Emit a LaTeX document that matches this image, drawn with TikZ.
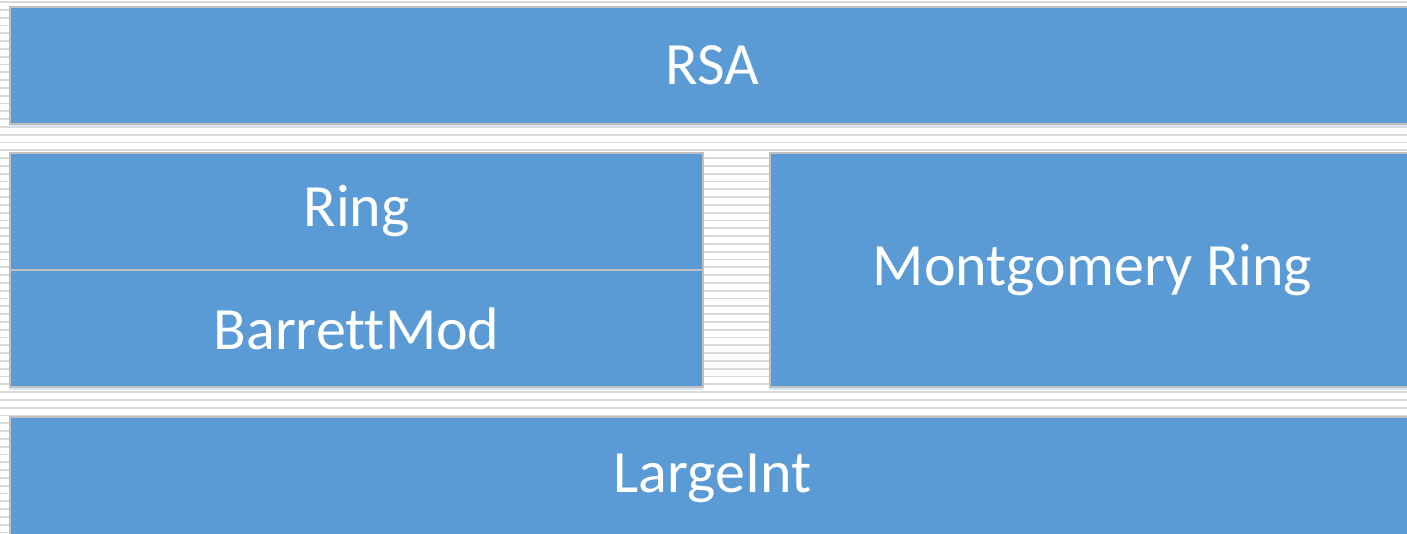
\documentclass[tikz,border=0pt]{standalone}
\usepackage{fontspec}
\setmainfont{Carlito}[Ligatures=NoCommon]
\usepackage{tikz}
\usetikzlibrary{positioning,shadows}

\definecolor{boxblue}{HTML}{5B9BD5}
\definecolor{boxedge}{HTML}{BFBFBF}
\definecolor{stripegray}{HTML}{D9D9D9}

\begin{document}
\begin{tikzpicture}[x=1pt,y=-1pt, node distance=0pt]

    \tikzstyle{layer}=[fill=boxblue,draw=boxedge,line width=1.5pt,text=white,
      inner sep=0pt,outer sep=0pt,font=\fontsize{60}{70}\selectfont,
      drop shadow={shadow xshift=0pt,shadow yshift=-3pt,fill=boxblue!25,opacity=1}]
    \tikzstyle{stripe}=[stripegray,line width=1.8pt]

    \useasboundingbox (0,0) rectangle (1407,533);
    \clip (0,0) rectangle (1407,533);

    % striped background
    \foreach \y in {2,9.8,...,533}
      \draw[stripe] (0,\y) -- (1407,\y);

    \node[layer,anchor=north west,minimum width=1405pt,minimum height=117pt] (rsa) at (10,7) {RSA};
    \node[layer,anchor=north west,minimum width=693pt,minimum height=117pt] (ring) at (10,153) {Ring};
    \node[layer,below=of ring,minimum width=693pt,minimum height=117pt] (barrett) {BarrettMod};
    \node[layer,anchor=north west,minimum width=645pt,minimum height=234pt] (mont) at (770,153) {Montgomery Ring};
    \node[layer,anchor=north west,minimum width=1405pt,minimum height=123pt] (largeint) at (10,417) {LargeInt};

\end{tikzpicture}
\end{document}
